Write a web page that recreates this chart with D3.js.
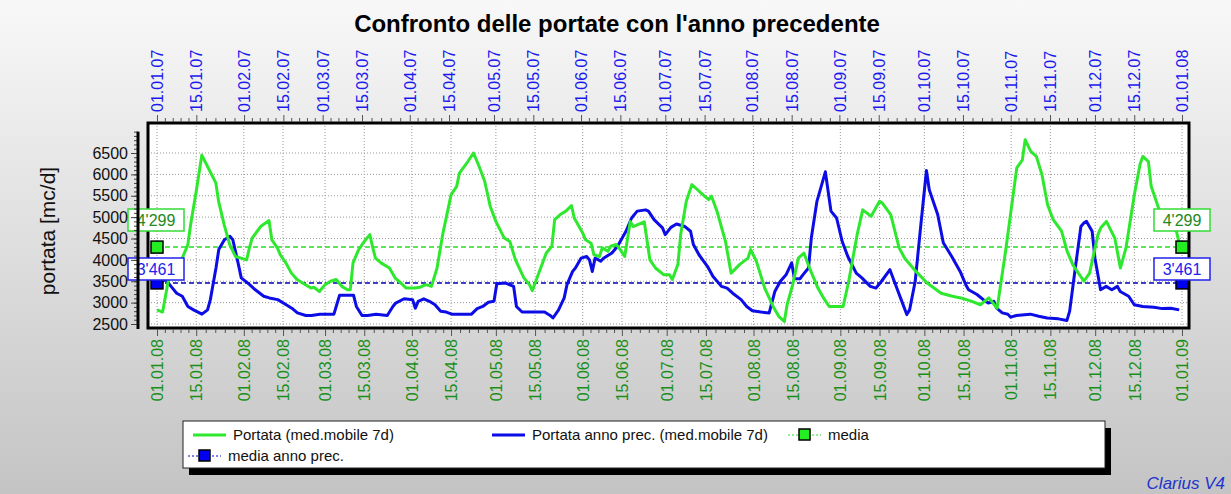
<!DOCTYPE html>
<html>
<head>
<meta charset="utf-8">
<script src="https://cdn.jsdelivr.net/npm/d3@7"></script>
<style>
  body { margin: 0; }
  text { font-family: "Liberation Sans", Arial, sans-serif; }
</style>
</head>
<body>
<script>
var width = 1231,
  height = 494;

// day offsets from 1 Jan and daily flow (7 day moving average), current year 2008
var portataDay = [0, 2, 4, 5, 9, 11, 12, 14, 16, 18, 21, 22, 24, 26, 28, 30, 32, 33, 34, 37, 40, 41, 43, 44,
  46, 48, 50, 53, 55, 56, 58, 60, 62, 64, 65, 66, 68, 69, 70, 72, 74, 76, 77, 78, 80, 83, 85, 87, 89, 92,
  94, 96, 98, 100, 102, 105, 107, 108, 111, 113, 115, 117, 119, 121, 124, 126, 128, 131, 133, 134, 137,
  139, 141, 142, 144, 146, 148, 149, 152, 153, 155, 156, 158, 159, 161, 162, 164, 165, 167, 169, 170, 174,
  176, 178, 181, 183, 184, 186, 187, 189, 191, 193, 195, 197, 198, 200, 203, 205, 208, 211, 212, 214, 217,
  220, 222, 224, 225, 227, 229, 231, 233, 236, 238, 240, 245, 247, 250, 252, 255, 258, 259, 262, 265, 267,
  271, 275, 280, 284, 287, 291, 294, 297, 300, 303, 307, 309, 310, 312, 314, 316, 318, 320, 323, 325, 327,
  329, 331, 333, 336, 337, 339, 342, 344, 346, 349, 351, 352, 354, 355, 358, 361, 364, 365];
var portataVal = [2830, 2780, 3500, 3730, 4040, 4350, 4820, 5600, 6450, 6190, 5800, 5370, 4820, 4350, 4080,
  4040, 4000, 4280, 4510, 4780, 4920, 4470, 4280, 4120, 3930, 3690, 3540, 3420, 3340, 3360, 3260, 3420,
  3500, 3540, 3460, 3380, 3300, 3300, 3930, 4240, 4430, 4590, 4300, 4040, 3930, 3810, 3580, 3460, 3340,
  3340, 3360, 3420, 3380, 3810, 4590, 5520, 5720, 6030, 6300, 6500, 6190, 5840, 5250, 4900, 4510, 4430,
  4000, 3580, 3420, 3280, 3810, 4160, 4320, 4940, 5060, 5140, 5270, 4980, 4630, 4470, 4390, 4120, 4080,
  4280, 4200, 4320, 4360, 4280, 4080, 4900, 4780, 4890, 4000, 3810, 3650, 3650, 3540, 3890, 4600, 5370,
  5760, 5640, 5520, 5410, 5490, 5130, 4430, 3690, 3890, 4040, 4240, 3970, 3340, 2910, 2680, 2560, 2950,
  3420, 4040, 4160, 3810, 3340, 3110, 2910, 2910, 3500, 4590, 5170, 5020, 5370, 5330, 5060, 4280, 4040,
  3730, 3460, 3220, 3150, 3110, 3030, 2950, 3110, 2870, 4200, 6150, 6340, 6810, 6540, 6420, 5990, 5290,
  4940, 4670, 4200, 3890, 3690, 3500, 3690, 4590, 4750, 4900, 4510, 3810, 4280, 5530, 6230, 6420, 6300,
  5720, 5140, 4820, 4670, 4390];

// previous year 2007
var precDay = [0, 2, 3, 5, 7, 9, 11, 13, 16, 18, 19, 21, 22, 24, 26, 27, 29, 30, 33, 35, 38, 40, 43, 46, 48,
  50, 53, 55, 58, 63, 64, 65, 70, 71, 73, 75, 78, 82, 84, 85, 88, 91, 92, 93, 95, 97, 99, 101, 103, 105,
  112, 114, 116, 118, 120, 121, 124, 127, 128, 130, 138, 140, 141, 143, 145, 146, 148, 149, 151, 153, 154,
  155, 156, 158, 159, 162, 164, 167, 169, 171, 174, 175, 177, 180, 181, 183, 185, 188, 190, 191, 193, 196,
  198, 201, 203, 205, 208, 210, 212, 215, 218, 220, 222, 224, 226, 227, 229, 230, 232, 233, 235, 238, 240,
  242, 244, 246, 249, 251, 254, 256, 258, 261, 263, 265, 267, 268, 270, 272, 274, 275, 278, 280, 283, 286,
  288, 289, 292, 295, 296, 298, 299, 301, 303, 304, 306, 311, 314, 317, 321, 324, 325, 327, 329, 330, 331,
  333, 334, 336, 338, 340, 342, 343, 346, 348, 351, 355, 358, 361, 364];
var precVal = [3480, 3500, 3540, 3380, 3220, 3150, 2910, 2830, 2730, 2830, 3070, 3810, 4240, 4470, 4550,
  4470, 3890, 3580, 3420, 3300, 3150, 3110, 3070, 2950, 2870, 2760, 2700, 2700, 2730, 2730, 2950, 3170,
  3170, 2910, 2700, 2700, 2730, 2700, 2910, 2990, 3090, 3070, 2870, 3030, 3090, 3030, 2950, 2800, 2780,
  2730, 2730, 2860, 2910, 3010, 3030, 3440, 3460, 3380, 2910, 2780, 2780, 2700, 2640, 2830, 3110, 3420,
  3730, 3810, 4040, 4080, 4000, 3730, 4040, 3970, 4040, 4160, 4320, 4670, 4980, 5140, 5170, 5140, 4940,
  4750, 4590, 4760, 4840, 4780, 4670, 4360, 4120, 3850, 3610, 3380, 3340, 3220, 3070, 2910, 2810, 2780,
  2760, 3260, 3500, 3650, 3930, 3560, 3560, 3650, 3810, 4510, 5370, 6060, 5140, 4980, 4430, 4080, 3690,
  3580, 3380, 3340, 3500, 3770, 3420, 3070, 2720, 2830, 3500, 4820, 6090, 5640, 5060, 4400, 4080, 3730,
  3420, 3300, 3190, 3030, 2990, 3030, 2870, 2760, 2730, 2660, 2700, 2730, 2680, 2640, 2620, 2580, 2800,
  3810, 4780, 4860, 4900, 4670, 4040, 3300, 3380, 3300, 3380, 3260, 3150, 2950, 2910, 2890, 2860, 2870,
  2830];

var media = 4299,
  mediaPrec = 3461;
var yTicks = [2500, 3000, 3500, 4000, 4500, 5000, 5500, 6000, 6500];
var legendItems = ["Portata (med.mobile 7d)", "Portata anno prec. (med.mobile 7d)", "media", "media anno prec."];

var green = "#2ee82e",
  blue = "#0c0ce6";

var svg = d3.select("body")
  .append("svg")
  .attr("width", width)
  .attr("height", height);

//----------Background----------
var grad = svg.append("defs").append("linearGradient")
  .attr("id", "bg")
  .attr("x1", 0).attr("y1", 0).attr("x2", 0).attr("y2", 1);
grad.append("stop").attr("offset", "0%").attr("stop-color", "#f8f8f8");
grad.append("stop").attr("offset", "100%").attr("stop-color", "#c4c4c4");
svg.append("rect")
  .attr("width", width)
  .attr("height", height)
  .attr("fill", "url(#bg)");

//----------Scales----------
var start08 = new Date(2008, 0, 1),
  start07 = new Date(2007, 0, 1);
var xNew = d3.scaleTime()
  .domain([start08, new Date(2009, 0, 1)])
  .range([157, 1182]);
var xOld = d3.scaleTime()
  .domain([start07, new Date(2008, 0, 1)])
  .range([157, 1182]);
var yScale = d3.scaleLinear()
  .domain([2500, 6500])
  .range([324, 153]);

var plotLeft = 148, plotRight = 1189, plotTop = 123, plotBottom = 328;

// 1st and 15th of each month
function majorTicks(year) {
  var t = [];
  for (var m = 0; m < 12; m++) {
    t.push(new Date(year, m, 1));
    t.push(new Date(year, m, 15));
  }
  t.push(new Date(year + 1, 0, 1));
  return t;
}
function minorTicks(major) {
  var t = [];
  for (var i = 0; i < major.length - 1; i++) {
    var a = +major[i], b = +major[i + 1];
    for (var k = 1; k < 5; k++) t.push(new Date(a + (b - a) * k / 5));
  }
  return t;
}

var major08 = majorTicks(2008),
  major07 = majorTicks(2007);

//----------Plot area + grid----------
svg.append("rect")
  .attr("x", plotLeft)
  .attr("y", plotTop)
  .attr("width", plotRight - plotLeft)
  .attr("height", plotBottom - plotTop)
  .attr("fill", "white");

svg.selectAll(".vgrid")
  .data(major08)
  .enter()
  .append("line")
  .attr("x1", function (d) { return xNew(d); })
  .attr("x2", function (d) { return xNew(d); })
  .attr("y1", plotTop)
  .attr("y2", plotBottom)
  .attr("stroke", "#999")
  .attr("stroke-dasharray", "1,2");

svg.selectAll(".hgrid")
  .data(yTicks)
  .enter()
  .append("line")
  .attr("x1", plotLeft)
  .attr("x2", plotRight)
  .attr("y1", function (d) { return yScale(d); })
  .attr("y2", function (d) { return yScale(d); })
  .attr("stroke", "#999")
  .attr("stroke-dasharray", "1,2");

//----------Mean lines----------
svg.append("line")
  .attr("x1", 157).attr("x2", 1182)
  .attr("y1", yScale(media)).attr("y2", yScale(media))
  .attr("stroke", "#22dd22")
  .attr("stroke-width", 1.5)
  .attr("stroke-dasharray", "5,3");
svg.append("line")
  .attr("x1", 157).attr("x2", 1182)
  .attr("y1", yScale(mediaPrec)).attr("y2", yScale(mediaPrec))
  .attr("stroke", "#0000bb")
  .attr("stroke-width", 1.5)
  .attr("stroke-dasharray", "5,3");

//----------Series----------
var lineNew = d3.line()
  .x(function (d) { return xNew(d3.timeDay.offset(start08, d[0])); })
  .y(function (d) { return yScale(d[1]); });
var lineOld = d3.line()
  .x(function (d) { return xOld(d3.timeDay.offset(start07, d[0])); })
  .y(function (d) { return yScale(d[1]); });

svg.append("path")
  .datum(d3.zip(precDay, precVal))
  .attr("d", lineOld)
  .attr("fill", "none")
  .attr("stroke", blue)
  .attr("stroke-width", 3)
  .attr("stroke-linejoin", "round");

svg.append("path")
  .datum(d3.zip(portataDay, portataVal))
  .attr("d", lineNew)
  .attr("fill", "none")
  .attr("stroke", green)
  .attr("stroke-width", 3)
  .attr("stroke-linejoin", "round");

svg.append("rect")
  .attr("x", plotLeft)
  .attr("y", plotTop)
  .attr("width", plotRight - plotLeft)
  .attr("height", plotBottom - plotTop)
  .attr("fill", "none")
  .attr("stroke", "black")
  .attr("stroke-width", 3);

//----------Markers + value labels----------
var markers = [
  { v: media, fill: "#22ee22", stroke: "#33dd33", text: "#228822", label: "4'299", ly: 209 },
  { v: mediaPrec, fill: "#0000ee", stroke: "#2222ee", text: "#2222ee", label: "3'461", ly: 258 }
];
markers.forEach(function (m) {
  [157, 1182].forEach(function (x) {
    svg.append("rect")
      .attr("x", x - 6)
      .attr("y", yScale(m.v) - 6)
      .attr("width", 12)
      .attr("height", 12)
      .attr("fill", m.fill)
      .attr("stroke", "black")
      .attr("stroke-width", 1.5);
  });
  [128, 1154].forEach(function (x) {
    svg.append("rect")
      .attr("x", x)
      .attr("y", m.ly)
      .attr("width", 56)
      .attr("height", 22)
      .attr("fill", "white")
      .attr("stroke", m.stroke)
      .attr("stroke-width", 1.5);
    svg.append("text")
      .attr("x", x + 28)
      .attr("y", m.ly + 17)
      .attr("text-anchor", "middle")
      .attr("fill", m.text)
      .style("font-size", "16px")
      .text(m.label);
  });
});

//----------X axes----------
var fmt = d3.timeFormat("%d.%m.%y");

var bottomAxis = svg.append("g")
  .attr("transform", "translate(0," + (plotBottom + 1) + ")")
  .call(d3.axisBottom(xNew).tickValues(major08).tickFormat(fmt).tickSize(7));
bottomAxis.select(".domain").remove();
bottomAxis.selectAll("line").attr("stroke", "#555");
bottomAxis.selectAll("text")
  .attr("transform", "rotate(-90)")
  .attr("x", -10)
  .attr("y", 0)
  .attr("dy", "0.35em")
  .style("text-anchor", "end")
  .style("font-size", "16px")
  .attr("fill", "#1a901a");
svg.append("g")
  .attr("transform", "translate(0," + (plotBottom + 1) + ")")
  .call(d3.axisBottom(xNew).tickValues(minorTicks(major08)).tickFormat("").tickSize(4))
  .call(function (g) { g.select(".domain").remove(); g.selectAll("line").attr("stroke", "#555"); });

var topAxis = svg.append("g")
  .attr("transform", "translate(0," + (plotTop - 1) + ")")
  .call(d3.axisTop(xOld).tickValues(major07).tickFormat(fmt).tickSize(7));
topAxis.select(".domain").remove();
topAxis.selectAll("line").attr("stroke", "#555");
topAxis.selectAll("text")
  .attr("transform", "rotate(-90)")
  .attr("x", 10)
  .attr("y", 0)
  .attr("dy", "0.35em")
  .style("text-anchor", "start")
  .style("font-size", "16px")
  .attr("fill", "#1a1aee");
svg.append("g")
  .attr("transform", "translate(0," + (plotTop - 1) + ")")
  .call(d3.axisTop(xOld).tickValues(minorTicks(major07)).tickFormat("").tickSize(4))
  .call(function (g) { g.select(".domain").remove(); g.selectAll("line").attr("stroke", "#555"); });

//----------Y axis----------
var yAxis = svg.append("g")
  .attr("transform", "translate(138,0)")
  .call(d3.axisLeft(yScale).tickValues(yTicks).tickFormat(d3.format("d")).tickSize(7).tickPadding(3));
yAxis.select(".domain").remove();
yAxis.selectAll("text").style("font-size", "16px").attr("fill", "#111");
yAxis.selectAll("line").attr("stroke", "#444");
svg.append("g")
  .attr("transform", "translate(138,0)")
  .call(d3.axisLeft(yScale).tickValues(d3.range(2500, 7001, 100)).tickFormat("").tickSize(4))
  .call(function (g) { g.select(".domain").remove(); g.selectAll("line").attr("stroke", "#444"); });
svg.append("line")
  .attr("x1", 138).attr("x2", 138)
  .attr("y1", yScale(7000)).attr("y2", 329)
  .attr("stroke", "black")
  .attr("stroke-width", 3);

svg.append("text")
  .attr("transform", "translate(55,231) rotate(-90)")
  .attr("text-anchor", "middle")
  .style("font-size", "21px")
  .attr("fill", "#111")
  .text("portata [mc/d]");

//----------Title----------
svg.append("text")
  .attr("x", 617)
  .attr("y", 32)
  .attr("text-anchor", "middle")
  .style("font-size", "24px")
  .style("font-weight", "bold")
  .text("Confronto delle portate con l'anno precedente");

//----------Legend----------
var lg = svg.append("g");
lg.append("rect")
  .attr("x", 189).attr("y", 428)
  .attr("width", 922).attr("height", 47)
  .attr("fill", "black");
lg.append("rect")
  .attr("x", 183).attr("y", 421)
  .attr("width", 922).attr("height", 47)
  .attr("fill", "white")
  .attr("stroke", "#222")
  .attr("stroke-width", 1);

var legendPos = [
  { x: 193, y: 435, color: green, kind: "line", fill: null },
  { x: 492, y: 435, color: blue, kind: "line", fill: null },
  { x: 788, y: 435, color: "#22dd22", kind: "mark", fill: "#22ee22" },
  { x: 188, y: 456, color: "#0000cc", kind: "mark", fill: "#0000ee" }
];
legendItems.forEach(function (name, i) {
  var p = legendPos[i];
  if (p.kind === "line") {
    lg.append("line")
      .attr("x1", p.x).attr("x2", p.x + 33)
      .attr("y1", p.y).attr("y2", p.y)
      .attr("stroke", p.color)
      .attr("stroke-width", 3);
  } else {
    lg.append("line")
      .attr("x1", p.x).attr("x2", p.x + 33)
      .attr("y1", p.y).attr("y2", p.y)
      .attr("stroke", p.color)
      .attr("stroke-dasharray", "2,2");
    lg.append("rect")
      .attr("x", p.x + 11).attr("y", p.y - 6)
      .attr("width", 11).attr("height", 11)
      .attr("fill", p.fill)
      .attr("stroke", "black")
      .attr("stroke-width", 1.5);
  }
  lg.append("text")
    .attr("x", p.x + 40)
    .attr("y", p.y + 5)
    .style("font-size", "15px")
    .attr("fill", "#111")
    .text(name);
});

svg.append("text")
  .attr("x", 1225)
  .attr("y", 489)
  .attr("text-anchor", "end")
  .style("font-size", "17px")
  .style("font-style", "italic")
  .attr("fill", "#2233cc")
  .text("Clarius V4");
</script>
</body>
</html>
